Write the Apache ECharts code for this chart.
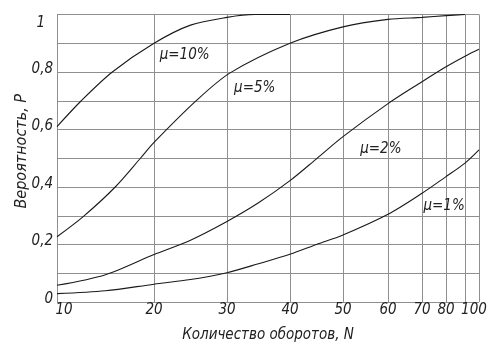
<!DOCTYPE html>
<html>
<head>
<meta charset="utf-8">
<script src="https://cdn.jsdelivr.net/npm/echarts@6/dist/echarts.min.js"></script>
<style>html,body{margin:0;padding:0;background:#fff}#c{width:492px;height:343px}</style>
</head>
<body>
<div id="c"></div>
<script>
// Non-uniform N scale of the original nomogram (breakpoints: N value -> fraction of axis)
const scaleN = [10, 20, 30, 40, 50, 60, 70, 80, 90, 100];
const scaleU = [0, 0.2299, 0.4028, 0.5521, 0.6777, 0.7844, 0.8649, 0.9218, 0.9668, 1.0];
const xTickLabels = [10, 20, 30, 40, 50, 60, 70, 80, 100];

const n10 = [10, 12.5, 15.7, 20, 25, 30, 34.4, 40];
const p10 = [0.61, 0.70, 0.80, 0.90, 0.963, 0.99, 1.0, 1.0];

const n5 = [10, 12.7, 16, 18.6, 20, 25.9, 30.5, 40, 50, 60, 70, 80, 90];
const p5 = [0.227, 0.297, 0.40, 0.50, 0.555, 0.703, 0.797, 0.90, 0.957, 0.983, 0.99, 0.996, 1.0];

const n2 = [10, 15, 20, 25, 30, 35, 40, 45, 50, 60, 70, 80, 90, 100];
const p2 = [0.058, 0.095, 0.165, 0.215, 0.28, 0.345, 0.422, 0.498, 0.575, 0.69, 0.766, 0.818, 0.855, 0.879];

const n1 = [10, 15, 20, 25, 30, 35, 40, 45, 50, 60, 70, 80, 90, 100];
const p1 = [0.029, 0.039, 0.062, 0.078, 0.102, 0.133, 0.166, 0.2, 0.233, 0.305, 0.378, 0.436, 0.483, 0.529];

const seriesNames = ['μ=10%', 'μ=5%', 'μ=2%', 'μ=1%'];
const labelN = [24.2, 34.4, 58.4, 79.2];
const labelP = [0.859, 0.744, 0.532, 0.334];

function toU(n) {
  for (let i = 0; i < scaleN.length - 1; i++) {
    if (n <= scaleN[i + 1]) {
      const t = (n - scaleN[i]) / (scaleN[i + 1] - scaleN[i]);
      return scaleU[i] + t * (scaleU[i + 1] - scaleU[i]);
    }
  }
  return 1;
}
function fromU(u) {
  for (let i = 0; i < scaleU.length; i++) if (Math.abs(scaleU[i] - u) < 1e-6) return scaleN[i];
  return '';
}

const FONT = "'DejaVu Sans Condensed', 'DejaVu Sans', sans-serif";
const TFONT = "'Liberation Sans Narrow', 'DejaVu Sans Condensed', sans-serif";
const sets = [[n10, p10], [n5, p5], [n2, p2], [n1, p1]];
const lbl = {fontFamily: FONT, fontStyle: 'italic', fontSize: 15, color: '#222'};

const chart = echarts.init(document.getElementById('c'), null, {renderer: 'canvas'});
chart.setOption({
  backgroundColor: '#fff',
  animation: false,
  grid: {left: 57, right: 13, top: 14.5, bottom: 41, containLabel: false, outerBoundsMode: 'none'},
  xAxis: {
    type: 'value', min: 0, max: 1,
    name: 'Количество оборотов, N', nameLocation: 'middle', nameGap: 26, nameMoveOverlap: false,
    nameTextStyle: {fontFamily: TFONT, fontStyle: 'italic', fontSize: 15, color: '#222'},
    axisLine: {show: false}, axisTick: {show: false, customValues: scaleU},
    axisLabel: {
      customValues: xTickLabels.map(toU),
      formatter: v => {
        const n = fromU(v);
        if (n === 10) return '{f|10}';
        if (n === 100) return '{e|100}';
        return '{m|' + n + '}';
      },
      rich: {
        f: Object.assign({padding: [0, 0, 0, 14]}, lbl),
        e: Object.assign({padding: [0, 10, 0, 0]}, lbl),
        m: Object.assign({}, lbl)
      },
      margin: 1
    },
    splitLine: {show: true, lineStyle: {color: '#8f8f8f', width: 1}}
  },
  yAxis: {
    type: 'value', min: 0, max: 1, interval: 0.1,
    name: 'Вероятность, P', nameLocation: 'middle', nameGap: 27, nameMoveOverlap: false,
    nameTextStyle: {fontFamily: TFONT, fontStyle: 'italic', fontSize: 16, color: '#222', padding: [0, 0, 0, 14]},
    axisLine: {show: false}, axisTick: {show: false},
    axisLabel: {
      formatter: v => {
        const k = Math.round(v * 10);
        if (k % 2) return '';
        if (k === 10) return '{top|1}';
        return '{n|' + (k === 0 ? '0' : (k / 10).toFixed(1).replace('.', ',')) + '}';
      },
      rich: {
        top: Object.assign({padding: [17, 8, 0, 0]}, lbl),
        n: Object.assign({padding: [0, 0, 6, 0]}, lbl)
      },
      margin: 4
    },
    splitLine: {show: true, lineStyle: {color: '#8f8f8f', width: 1}}
  },
  series: sets.map((s, i) => ({
    type: 'line', name: seriesNames[i],
    data: s[0].map((n, j) => [toU(n), s[1][j]]),
    smooth: 0.3, showSymbol: false,
    lineStyle: {color: '#1a1a1a', width: 1.1},
    markPoint: {
      symbol: 'circle', symbolSize: 1, itemStyle: {color: 'rgba(0,0,0,0)'},
      label: Object.assign({show: true, position: 'inside', formatter: seriesNames[i]}, lbl),
      data: [{coord: [toU(labelN[i]), labelP[i]]}]
    }
  }))
});
</script>
</body>
</html>
